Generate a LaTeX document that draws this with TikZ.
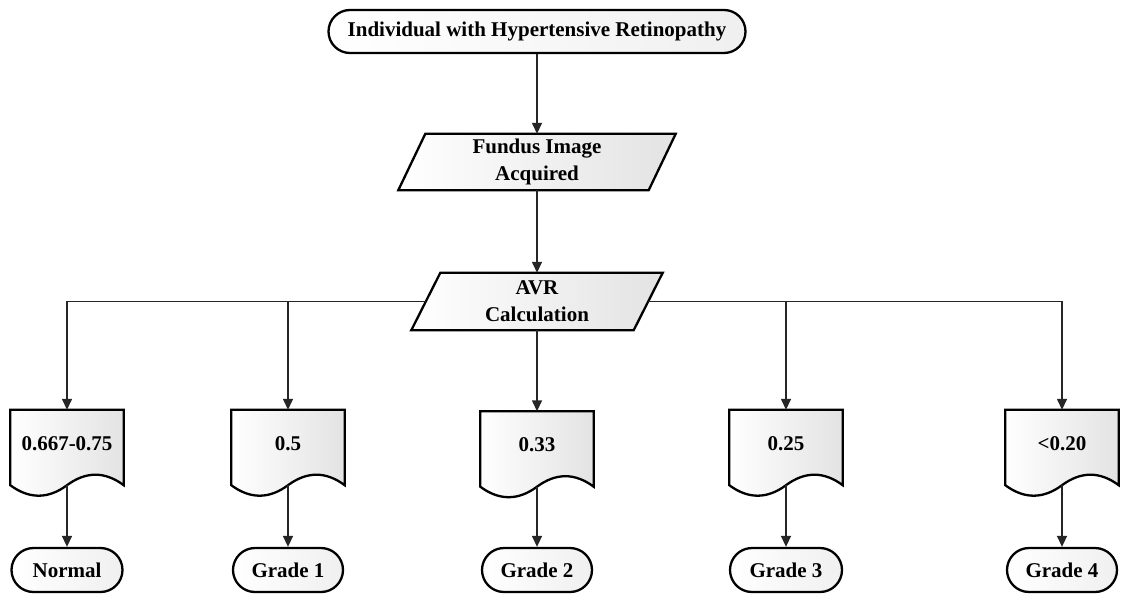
\documentclass[tikz,border=0pt]{standalone}
\usepackage{fontspec}
\setmainfont{Liberation Serif}
\usetikzlibrary{shapes.misc,arrows.meta,backgrounds,calc}

\tikzset{
  every node/.style={font=\bfseries\fontsize{21}{27}\selectfont, align=center},
  outline/.style={draw=black, line width=2.3pt, line join=miter, left color=white, right color=gray!22},
  termbox/.style={rounded rectangle, draw=black, line width=2.3pt, left color=white, right color=gray!12,
                  minimum height=44pt, inner sep=0pt},
  iobox/.style={inner sep=0pt},
  docbox/.style={minimum width=113pt, minimum height=75pt, inner sep=0pt, text height=15pt, text depth=10pt},
  link/.style={draw=black!85, line width=1.5pt, -{Triangle[width=10pt,length=11pt]}},
}

% parallelogram around a node: #1 name, #2 half of the horizontal slant
\newcommand\parashape[2]{%
  \draw[outline] ($(#1.north west)+(#2,0)$) -- ($(#1.north east)+(#2,0)$)
    -- ($(#1.south east)-(#2,0)$) -- ($(#1.south west)-(#2,0)$) -- cycle;}

% document symbol with a wavy lower edge below the node
\newcommand\docshape[1]{%
  \draw[outline] (#1.south west) -- (#1.north west) -- (#1.north east) -- (#1.south east)
    .. controls ($(#1.south east)+(-18.8,-14)$) and ($(#1.south east)+(-37.7,-14)$) .. (#1.south)
    .. controls ($(#1.south)+(-18.8,14)$) and ($(#1.south west)+(18.8,14)$) .. (#1.south west) -- cycle;}

\begin{document}
\begin{tikzpicture}[x=1pt,y=-1pt]
\useasboundingbox (0,0) rectangle (1126,599);

% top and process steps
\node[termbox, minimum width=417pt, minimum height=43pt] (start) at (537,31.5) {Individual with Hypertensive Retinopathy};
\node[iobox, minimum width=250pt, minimum height=56pt] (fundus) at (537,162) {Fundus Image\\Acquired};
\node[iobox, minimum width=222pt, minimum height=57pt] (avr) at (537,301.5) {AVR\\Calculation};

% ratio ranges
\node[docbox] (d1) at (67,447.5) {0.667-0.75};
\node[docbox] (d2) at (288,447.5) {0.5};
\node[docbox] (d3) at (537,449) {0.33};
\node[docbox] (d4) at (786,447.5) {0.25};
\node[docbox] (d5) at (1062,447.5) {<0.20};

% grades
\node[termbox, minimum width=111pt] (g0) at (67,570) {Normal};
\node[termbox, minimum width=110pt] (g1) at (288,570) {Grade 1};
\node[termbox, minimum width=110pt] (g2) at (537,570) {Grade 2};
\node[termbox, minimum width=112pt] (g3) at (786,570) {Grade 3};
\node[termbox, minimum width=110pt] (g4) at (1062,570) {Grade 4};

\begin{scope}[on background layer]
  \parashape{fundus}{13.5}
  \parashape{avr}{14.5}
  \foreach \d in {d1,d2,d3,d4,d5} {\docshape{\d}}
\end{scope}

% connectors
\draw[link] (start.south) -- (fundus.north);
\draw[link] (fundus.south) -- (avr.north);
\draw[link] (avr.west) -| (d1.north);
\draw[link] (avr.west) -| (d2.north);
\draw[link] (avr.south) -- (d3.north);
\draw[link] (avr.east) -| (d4.north);
\draw[link] (avr.east) -| (d5.north);
\draw[link] (d1.south) -- (g0.north);
\draw[link] (d2.south) -- (g1.north);
\draw[link] (d3.south) -- (g2.north);
\draw[link] (d4.south) -- (g3.north);
\draw[link] (d5.south) -- (g4.north);
\end{tikzpicture}
\end{document}
